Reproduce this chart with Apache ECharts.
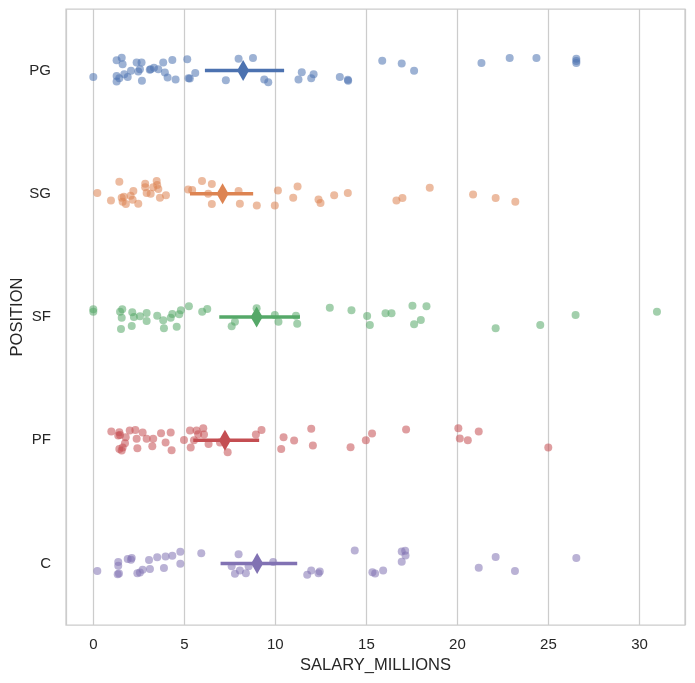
<!DOCTYPE html>
<html>
<head>
<meta charset="utf-8">
<script src="https://cdn.jsdelivr.net/npm/echarts@6/dist/echarts.min.js"></script>
<style>
html,body{margin:0;padding:0;background:#fff;}
#chart{width:695px;height:683px;}
</style>
</head>
<body>
<div id="chart"></div>
<script>
/** 数据 **/
var positions = ['PG', 'SG', 'SF', 'PF', 'C'];
var colors = ['#4c72b0', '#dd8452', '#55a868', '#c44e52', '#8172b3'];

var pgSalary = [0.00, 1.28, 1.56, 1.61, 1.28, 1.28, 1.43, 1.70, 1.89, 2.07, 2.38, 2.65, 2.56, 2.47, 2.67, 3.15, 3.33, 3.10, 3.57, 3.84,
    3.93, 4.08, 4.34, 4.52, 5.16, 5.23, 5.30, 5.60, 7.28, 7.98, 8.77, 9.39, 9.61, 11.45, 11.27, 12.10, 11.97, 13.54, 13.98, 14.00,
    15.87, 16.94, 17.62, 21.32, 22.87, 24.34, 26.53, 26.53, 26.53];
var pgJitter = [0.051, -0.083, -0.105, -0.051, 0.043, 0.089, 0.062, 0.030, 0.051, 0.002, -0.065, -0.065, -0.011, 0.008, 0.083, -0.011, -0.024, -0.006, -0.011, -0.065,
    0.016, 0.057, -0.087, 0.073, -0.092, 0.062, 0.065, 0.019, 0.079, -0.097, -0.103, 0.073, 0.095, 0.014, 0.073, 0.030, 0.062, 0.051, 0.075, 0.083,
    -0.079, -0.057, 0.002, -0.062, -0.103, -0.103, -0.097, -0.077, -0.061];

var sgSalary = [0.22, 0.97, 1.43, 1.56, 1.61, 1.68, 1.79, 2.05, 2.20, 2.16, 2.47, 2.85, 2.85, 2.93, 3.15, 3.29, 3.48, 3.51, 3.57, 3.66,
    3.99, 5.21, 5.43, 5.97, 6.31, 6.51, 6.51, 7.98, 8.05, 8.98, 9.97, 10.14, 11.22, 10.98, 12.37, 12.48, 13.23, 13.98,
    16.65, 16.98, 18.48, 20.86, 22.10, 23.18];
var sgJitter = [-0.006, 0.054, -0.097, 0.032, 0.065, 0.024, 0.083, 0.016, -0.022, 0.049, 0.081, -0.081, -0.054, -0.006, 0, -0.054, -0.103, -0.071, -0.038, 0.032,
    0.011, -0.035, -0.030, -0.103, 0, -0.079, 0.083, -0.022, 0.081, 0.095, 0.095, -0.027, -0.059, 0.032, 0.046, 0.075, 0.011, -0.006,
    0.054, 0.035, -0.049, 0.006, 0.035, 0.065];

var sfSalary = [0.00, 0.00, 1.47, 1.59, 1.56, 1.52, 2.14, 2.23, 2.11, 2.56, 2.93, 2.93, 3.51, 3.84, 3.88, 4.25, 4.34, 4.58, 4.72, 4.81,
    5.25, 5.98, 6.26, 7.60, 7.78, 8.97, 9.97, 10.17, 11.13, 11.20, 12.99, 14.18, 15.04, 15.19, 16.05, 16.38, 17.53, 18.30, 17.99, 17.62,
    22.10, 24.55, 26.49, 30.96];
var sfJitter = [-0.062, -0.043, -0.043, -0.062, 0.006, 0.097, -0.038, 0, 0.073, -0.006, -0.032, 0.032, -0.011, 0.027, 0.092, 0.006, -0.024, 0.079, -0.022, -0.054,
    -0.087, -0.043, -0.065, 0.075, 0.038, -0.071, -0.016, 0.038, -0.011, 0.054, -0.075, -0.054, -0.008, 0.065, -0.030, -0.030, -0.092, -0.087, 0.024, 0.059,
    0.092, 0.065, -0.016, -0.043];

var pfSalary = [0.99, 1.43, 1.47, 1.37, 1.78, 1.74, 1.43, 1.56, 1.61, 2.00, 2.31, 2.38, 2.42, 2.71, 2.93, 3.29, 3.24, 3.72, 3.97, 4.25,
    4.30, 4.98, 5.31, 5.35, 5.53, 5.67, 5.76, 6.04, 6.08, 6.33, 6.96, 7.38, 8.93, 9.24, 10.32, 10.45, 11.03, 11.97, 12.06, 14.13,
    14.97, 15.31, 17.18, 20.05, 20.13, 20.57, 21.17, 24.99];
var pfJitter = [-0.071, -0.065, -0.043, -0.038, -0.024, 0.024, 0.071, 0.083, 0.059, -0.079, -0.083, -0.011, 0.065, -0.062, -0.011, -0.011, 0.049, -0.057, 0.019, -0.062,
    0.081, -0.002, -0.079, 0.059, 0, -0.079, -0.049, -0.097, -0.046, 0.030, 0.019, 0.097, -0.046, -0.083, 0.071, -0.024, 0.002, -0.092, 0.043, 0.057,
    0, -0.054, -0.087, -0.097, -0.014, 0, -0.071, 0.059];

var cSalary = [0.22, 1.37, 1.37, 1.34, 1.41, 1.89, 2.11, 2.07, 2.42, 2.56, 2.71, 3.06, 3.11, 3.51, 3.88, 3.97, 4.34, 4.78, 4.78, 5.93,
    7.60, 7.78, 7.98, 8.05, 8.38, 8.53, 9.88, 11.75, 11.97, 12.37, 12.44, 14.36, 15.33, 15.48, 15.92, 16.94, 17.13, 17.15, 16.94,
    21.17, 22.10, 23.16, 26.53];
var cJitter = [0.062, -0.011, 0.019, 0.089, 0.081, -0.035, -0.043, -0.030, 0.079, 0.073, 0.051, -0.027, 0.046, -0.049, 0.038, -0.057, -0.062, -0.095, 0.002, -0.083,
    0.024, 0.083, -0.075, 0.057, 0.079, 0.024, -0.011, 0.092, 0.057, 0.079, 0.065, -0.105, 0.071, 0.081, 0.057, -0.097, -0.103, -0.065, -0.014,
    0.035, -0.051, 0.062, -0.043];

// 均值及置信区间
var meanSalary = [8.23, 7.10, 8.97, 7.23, 9.00];
var ciLow = [6.13, 5.31, 6.92, 5.49, 6.99];
var ciHigh = [10.48, 8.78, 11.35, 9.11, 11.20];

var salaryList = [pgSalary, sgSalary, sfSalary, pfSalary, cSalary];
var jitterList = [pgJitter, sgJitter, sfJitter, pfJitter, cJitter];

var textColor = '#262626';
var fontName = 'Liberation Sans, Arial, sans-serif';

var series = [];
for (var i = 0; i < positions.length; i++) {
    var pts = [];
    for (var j = 0; j < salaryList[i].length; j++) {
        pts.push([salaryList[i][j], i + jitterList[i][j]]);
    }
    series.push({
        name: positions[i],
        type: 'scatter',
        yAxisIndex: 1,
        data: pts,
        symbolSize: 8,
        itemStyle: {color: colors[i], opacity: 0.55},
        z: 2
    });
}
for (var k = 0; k < positions.length; k++) {
    series.push({
        type: 'line',
        yAxisIndex: 1,
        data: [[ciLow[k], k], [ciHigh[k], k]],
        showSymbol: false,
        symbol: 'none',
        lineStyle: {color: colors[k], width: 3.5},
        z: 5
    });
    series.push({
        type: 'scatter',
        yAxisIndex: 1,
        data: [[meanSalary[k], k]],
        symbol: 'diamond',
        symbolSize: [12, 21],
        itemStyle: {color: colors[k], opacity: 1},
        z: 6
    });
}

var option = {
    animation: false,
    backgroundColor: '#fff',
    textStyle: {fontFamily: fontName},
    grid: {
        left: 66, right: 10, top: 9, bottom: 58,
        containLabel: false,
        outerBoundsMode: 'none',
        show: true, borderColor: '#cccccc', borderWidth: 1.25
    },
    xAxis: {
        type: 'value',
        min: -1.5,
        max: 32.5,
        splitNumber: 6,
        name: 'SALARY_MILLIONS',
        nameLocation: 'middle',
        nameGap: 32,
        nameMoveOverlap: false,
        nameTextStyle: {fontSize: 16.5, color: textColor, fontFamily: fontName},
        axisLine: {show: false},
        axisTick: {show: false},
        axisLabel: {
            fontSize: 15, color: textColor, margin: 12, fontFamily: fontName,
            showMinLabel: false, showMaxLabel: false
        },
        splitLine: {show: true, lineStyle: {color: '#cccccc', width: 1.25}}
    },
    yAxis: [{
        type: 'category',
        data: positions,
        inverse: true,
        boundaryGap: true,
        name: 'POSITION',
        nameLocation: 'middle',
        nameGap: 40,
        nameRotate: 90,
        nameMoveOverlap: false,
        nameTextStyle: {fontSize: 16.5, color: textColor, fontFamily: fontName},
        axisLine: {show: false},
        axisTick: {show: false},
        splitLine: {show: false},
        axisLabel: {fontSize: 15, color: textColor, margin: 15, fontFamily: fontName}
    }, {
        type: 'value',
        min: -0.5,
        max: 4.5,
        inverse: true,
        show: false,
        splitLine: {show: false}
    }],
    series: series
};

var myEcharts = echarts.init(document.getElementById('chart'));
myEcharts.setOption(option);
</script>
</body>
</html>
